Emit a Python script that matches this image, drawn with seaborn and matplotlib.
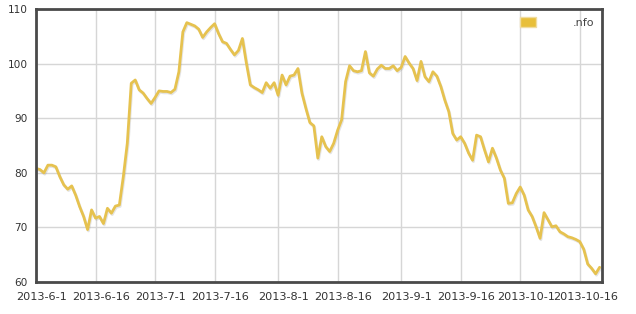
import pandas as pd
import numpy as np
import matplotlib
matplotlib.use("Agg")
import matplotlib.pyplot as plt
import matplotlib.dates as mdates
import matplotlib.patheffects as pe
import matplotlib.transforms as mtransforms
from matplotlib.patches import Patch
import seaborn as sns

start_date = "2013-06-01"
values = [
    80.8, 80.6, 80.0, 81.4, 81.4, 81.1, 79.3, 77.8, 77.0, 77.6,
    75.9, 73.8, 72.0, 69.6, 73.2, 71.7, 72.0, 70.7, 73.5, 72.6,
    73.9, 74.1, 79.3, 85.4, 96.4, 97.0, 95.2, 94.6, 93.6, 92.7,
    93.8, 95.0, 94.9, 94.9, 94.7, 95.3, 98.5, 105.8, 107.5, 107.2,
    106.9, 106.3, 104.8, 105.8, 106.6, 107.3, 105.5, 104.0, 103.7, 102.6,
    101.6, 102.4, 104.6, 100.1, 96.1, 95.6, 95.2, 94.7, 96.5, 95.5,
    96.5, 94.2, 97.9, 96.1, 97.7, 97.9, 99.1, 94.6, 91.8, 89.2,
    88.6, 82.7, 86.6, 84.8, 83.9, 85.4, 87.8, 89.7, 96.7, 99.6,
    98.7, 98.5, 98.7, 102.2, 98.3, 97.7, 99.0, 99.7, 99.1, 99.1,
    99.6, 98.7, 99.3, 101.3, 100.1, 99.1, 96.9, 100.4, 97.6, 96.7,
    98.5, 97.7, 95.8, 93.3, 91.2, 87.2, 86.0, 86.6, 85.4, 83.6,
    82.3, 86.9, 86.6, 84.2, 82.0, 84.5, 82.7, 80.5, 79.0, 74.4,
    74.5, 76.2, 77.4, 75.9, 73.2, 72.0, 70.1, 68.0, 72.7, 71.4,
    70.1, 70.3, 69.2, 68.8, 68.3, 68.1, 67.8, 67.4, 66.0, 63.3,
    62.5, 61.5, 62.7,
]
tick_labels = ["2013-6-1", "2013-6-16", "2013-7-1", "2013-7-16", "2013-8-1",
               "2013-8-16", "2013-9-1", "2013-9-16", "2013-10-1", "2013-10-16"]
tick_dates = ["2013-06-01", "2013-06-16", "2013-07-01", "2013-07-16", "2013-08-01",
              "2013-08-16", "2013-09-01", "2013-09-16", "2013-10-01", "2013-10-16"]
y_ticks = [60, 70, 80, 90, 100, 110]
series_name = ".nfo"

dates = pd.date_range(start_date, periods=len(values), freq="D")
df = pd.DataFrame({"date": dates, "value": values})

sns.set_style("white")
plt.rcParams["font.family"] = ["DejaVu Sans"]

line_color = "#e6c24f"
fig = plt.figure(figsize=(6.36, 3.14), dpi=100)
ax = fig.add_axes([36 / 636, 1 - 282 / 314, (602 - 36) / 636, (282 - 9) / 314])

sns.lineplot(data=df, x="date", y="value", ax=ax, color=line_color, linewidth=2.0,
             path_effects=[pe.SimpleLineShadow(offset=(0.6, -1.0), shadow_color="#888888", alpha=0.22),
                           pe.Normal()])

x0 = pd.Timestamp(start_date)
ax.set_xlim(mdates.date2num(x0), mdates.date2num(x0) + 142.6)
ax.set_ylim(60, 110)
ax.set_yticks(y_ticks)
ax.set_yticklabels([str(v) for v in y_ticks])
ax.set_xticks([mdates.date2num(pd.Timestamp(d)) for d in tick_dates])
ax.set_xticklabels(tick_labels)

ax.grid(True, color="#d6d6d6", linewidth=1.0)
ax.set_axisbelow(True)
for s in ax.spines.values():
    s.set_color("#4a4a4a")
    s.set_linewidth(2.0)
ax.tick_params(axis="both", length=0, labelcolor="#333333")
ax.tick_params(axis="y", pad=6, labelsize=7.6)
ax.tick_params(axis="x", pad=7, labelsize=8.1)
offset = mtransforms.ScaledTranslation(5.5 / 100, 0, fig.dpi_scale_trans)
for lbl in ax.get_xticklabels():
    lbl.set_transform(lbl.get_transform() + offset)
ax.set_xlabel("")
ax.set_ylabel("")

handle = Patch(facecolor="#e8bf3a", edgecolor="#f0dca0", linewidth=1.0)
leg = ax.legend([handle], [series_name], loc="upper right", frameon=False,
                fontsize=8, handlelength=1.45, handleheight=1.1, handletextpad=3.3,
                borderaxespad=0.3, labelcolor="#444444")

fig.savefig("out.png", dpi=100)
